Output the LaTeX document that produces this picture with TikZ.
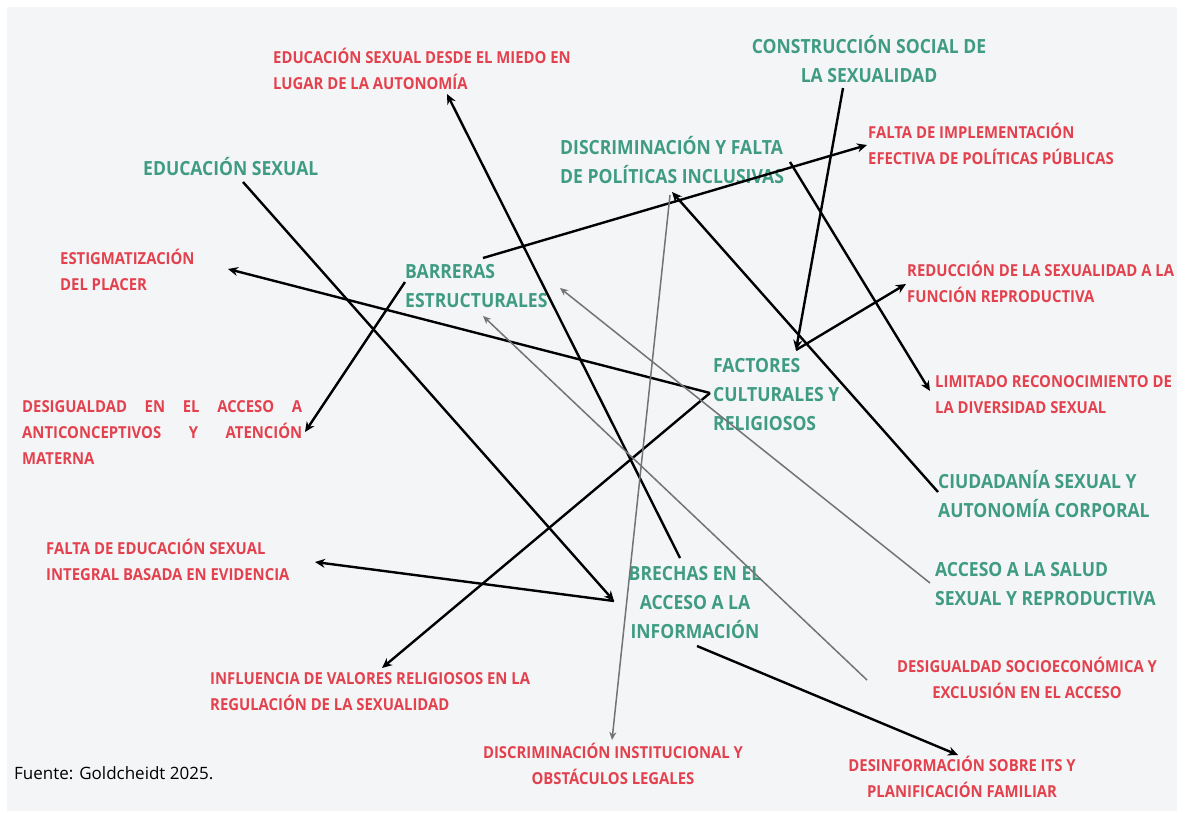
\documentclass[tikz,border=0pt]{standalone}
\usepackage{fontspec}
\setmainfont{Open Sans}[FakeStretch=0.9]
\newfontfamily\notefont{Open Sans}
\usetikzlibrary{arrows.meta, calc}
\definecolor{themegreen}{HTML}{3F9C82}
\definecolor{themered}{HTML}{E3414D}
\definecolor{panel}{HTML}{F4F5F7}
\tikzset{
    concept/.style={
        inner sep=0pt,
        align=left,
        text=themegreen,
        font=\bfseries\fontsize{19.5}{29}\selectfont
    },
    effect/.style={
        inner sep=0pt,
        align=left,
        text=themered,
        font=\bfseries\fontsize{16.5}{26}\selectfont
    },
    note/.style={inner sep=0pt, font=\notefont\fontsize{17}{20}\selectfont},
    line/.style={-{Stealth[length=10pt,width=9pt]}, line width=2.4pt, black},
    greyline/.style={-{Stealth[length=8pt,width=7pt]}, line width=1.5pt, black!55}
}

\begin{document}
\begin{tikzpicture}[x=1pt, y=-1pt]
\useasboundingbox (0,0) rectangle (1177,814);
\fill[panel] (7,7) rectangle (1177,811);

% main concepts (placed at the baseline of their last line)
\node[concept, anchor=base west] (edu) at (143,175) {EDUCACIÓN SEXUAL};
\node[concept, anchor=base, align=center] (cons) at (869,82) {CONSTRUCCIÓN SOCIAL DE\\LA SEXUALIDAD};
\node[concept, anchor=base west] (disc) at (560,183) {DISCRIMINACIÓN Y FALTA\\DE POLÍTICAS INCLUSIVAS};
\node[concept, anchor=base west] (barr) at (405,307) {BARRERAS\\ESTRUCTURALES};
\node[concept, anchor=base west] (fact) at (713,430) {FACTORES\\CULTURALES Y\\RELIGIOSOS};
\node[concept, anchor=base west] (ciud) at (938,517) {CIUDADANÍA SEXUAL Y\\AUTONOMÍA CORPORAL};
\node[concept, anchor=base west] (acc) at (935,605) {ACCESO A LA SALUD\\SEXUAL Y REPRODUCTIVA};
\node[concept, anchor=base, align=center] (brech) at (695,638) {BRECHAS EN EL\\ACCESO A LA\\INFORMACIÓN};

% effects
\node[effect, anchor=base west] (miedo) at (273,89) {EDUCACIÓN SEXUAL DESDE EL MIEDO EN\\LUGAR DE LA AUTONOMÍA};
\node[effect, anchor=base west] (impl) at (868,164) {FALTA DE IMPLEMENTACIÓN\\EFECTIVA DE POLÍTICAS PÚBLICAS};
\node[effect, anchor=base west] (estig) at (60,290) {ESTIGMATIZACIÓN\\DEL PLACER};
\node[effect, anchor=base west] (reduc) at (907,302) {REDUCCIÓN DE LA SEXUALIDAD A LA\\FUNCIÓN REPRODUCTIVA};
\node[effect, anchor=base west] (desac) at (22,464) {\makebox[280pt][s]{DESIGUALDAD EN EL ACCESO A}\\\makebox[280pt][s]{ANTICONCEPTIVOS Y ATENCIÓN}\\MATERNA};
\node[effect, anchor=base west] (limit) at (935,413) {LIMITADO RECONOCIMIENTO DE\\LA DIVERSIDAD SEXUAL};
\node[effect, anchor=base west] (faltaedu) at (46,580) {FALTA DE EDUCACIÓN SEXUAL\\INTEGRAL BASADA EN EVIDENCIA};
\node[effect, anchor=base west] (influ) at (210,710) {INFLUENCIA DE VALORES RELIGIOSOS EN LA\\REGULACIÓN DE LA SEXUALIDAD};
\node[effect, anchor=base, align=center] (discinst) at (613,784) {DISCRIMINACIÓN INSTITUCIONAL Y\\OBSTÁCULOS LEGALES};
\node[effect, anchor=base, align=center] (desig) at (1027,698) {DESIGUALDAD SOCIOECONÓMICA Y\\EXCLUSIÓN EN EL ACCESO};
\node[effect, anchor=base, align=center] (desinf) at (962,797) {DESINFORMACIÓN SOBRE ITS Y\\PLANIFICACIÓN FAMILIAR};

\node[note, anchor=base west] (fuente) at (14,779) {Fuente: Goldcheidt 2025.};

% connectors
\draw[line] ([shift={(78,-49)}]barr.base west) -- ([shift={(-1,-19)}]impl.base west);
\draw[line] ([shift={(100,7)}]edu.base west) -- ([shift={(-81,-37)}]brech.base);
\draw[line] ([shift={(-81,-37)}]brech.base) -- ([shift={(269,-18)}]faltaedu.base west);
\draw[line] ([shift={(-15,-80)}]brech.base) -- ([shift={(174,5)}]miedo.base west);
\draw[line] ([shift={(2,8)}]brech.base) -- ([shift={(-4,-42)}]desinf.base);
\draw[line] ([shift={(-3,-37)}]fact.base west) -- ([shift={(168,-21)}]estig.base west);
\draw[line] ([shift={(-3,-37)}]fact.base west) -- ([shift={(172,-42)}]influ.base west);
\draw[line] ([shift={(-26,6)}]cons.base) -- ([shift={(83,-80)}]fact.base west);
\draw[line] ([shift={(83,-80)}]fact.base west) -- ([shift={(-1,-18)}]reduc.base west);
\draw[line] ([shift={(230,-21)}]disc.base west) -- ([shift={(-5,-22)}]limit.base west);
\draw[line] ([shift={(0,-25)}]ciud.base west) -- ([shift={(112,9)}]disc.base west);
\draw[line] ([shift={(0,-25)}]barr.base west) -- ([shift={(283,-32)}]desac.base west);
\draw[greyline] ([shift={(110,12)}]disc.base west) -- ([shift={(-1,-44)}]discinst.base);
\draw[greyline] ([shift={(-160,-18)}]desig.base) -- ([shift={(78,9)}]barr.base west);
\draw[greyline] ([shift={(-5,-22)}]acc.base west) -- ([shift={(155,-19)}]barr.base west);
\end{tikzpicture}
\end{document}
